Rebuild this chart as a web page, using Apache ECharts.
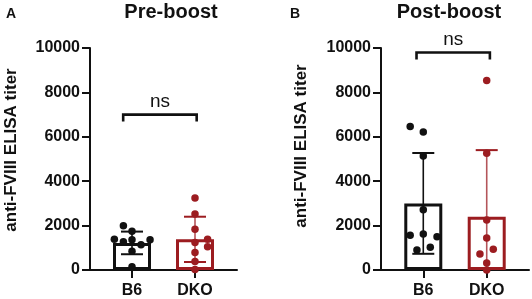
<!DOCTYPE html>
<html>
<head>
	<meta charset="utf-8"/>
	<script src="https://cdn.jsdelivr.net/npm/echarts@6/dist/echarts.min.js"></script>
	<style>
		html, body { margin: 0; padding: 0; background: #fff; }
		#chart { width: 532px; height: 299px; }
	</style>
	<title>anti-FVIII ELISA titer</title>
</head>
<body>
	<div id="chart"></div>
	<script>
		// groups and panels
		const groups = ['B6', 'DKO'];
		const panelTitles = ['Pre-boost', 'Post-boost'];
		const panelLetters = ['A', 'B'];
		const yName = 'anti-FVIII ELISA titer';
		const yTicks = [0, 2000, 4000, 6000, 8000, 10000];
		const sigLabel = ['ns', 'ns'];
		const sigValue = [7000, 9800];

		// bar heights (mean) and SD, [B6, DKO]
		const preMean = [1220, 1380];
		const preSD = [510, 1020];
		const postMean = [3000, 2400];
		const postSD = [2270, 3000];

		// individual mice, value + horizontal jitter
		const preB6 = [1990, 1740, 1390, 1270, 1360, 1140, 1360, 840, 150];
		const preB6Jit = [-0.41, 0, -0.84, -0.41, 0, 0.43, 0.86, 0, 0];
		const preDKO = [3240, 2520, 1840, 1240, 1390, 1050, 790, 380, 20];
		const preDKOJit = [0, 0, 0, 0, 0.6, 0.6, 0, 0, 0];
		const postB6 = [6460, 6220, 5140, 2710, 1570, 1620, 1500, 900, 1020];
		const postB6Jit = [-0.62, 0, 0, 0, -0.62, 0, 0.65, -0.3, 0.33];
		const postDKO = [8540, 5260, 2250, 1440, 940, 720, 320, 0];
		const postDKOJit = [0, 0, 0, 0, 0.31, -0.32, 0, 0];

		const colors = ['#111111', '#9c1c20'];
		const stemColors = ['#111111', '#b4555a'];
		const slotPos = [2, 5];   // x slot of each group on the 0..7 axis
		const fontFam = '"Liberation Sans", Arial, sans-serif';

		const grids = [
			{left: 90, top: 48, width: 147, height: 223},
			{left: 381, top: 48, width: 148, height: 223}
		];

		function errorRender(params, api){
			let x = api.value(0), lo = api.value(1), hi = api.value(2), ci = api.value(3);
			let pLo = api.coord([x, Math.max(0, lo)]);
			let pHi = api.coord([x, hi]);
			let half = 11;
			let st = {stroke: stemColors[ci], lineWidth: 1.6};
			let cap = {stroke: colors[ci], lineWidth: 2};
			let kids = [
				{type: 'line', shape: {x1: pHi[0], y1: pHi[1], x2: pLo[0], y2: pLo[1]}, style: st},
				{type: 'line', shape: {x1: pHi[0] - half, y1: pHi[1], x2: pHi[0] + half, y2: pHi[1]}, style: cap}
			];
			if (lo > 0){
				kids.push({type: 'line', shape: {x1: pLo[0] - half, y1: pLo[1], x2: pLo[0] + half, y2: pLo[1]}, style: cap});
			}
			return {type: 'group', children: kids};
		}

		function bracketRender(params, api){
			let a = api.coord([api.value(0), api.value(2)]);
			let b = api.coord([api.value(1), api.value(2)]);
			let drop = 7;
			return {
				type: 'group',
				children: [
					{type: 'polyline', shape: {points: [[a[0], a[1] + drop], [a[0], a[1]], [b[0], b[1]], [b[0], b[1] + drop]]},
						style: {stroke: '#111', lineWidth: 2.6, fill: null}},
					{type: 'text', x: (a[0] + b[0]) / 2, y: a[1] - 3,
						style: {text: sigLabel[api.value(3)], fill: '#111', font: '19px ' + fontFam, align: 'center', verticalAlign: 'bottom'}}
				]
			};
		}

		function buildPanel(p, means, sds, pts){
			let xv = p * 2;
			let series = [];
			series.push({
				type: 'bar', xAxisIndex: xv, yAxisIndex: p, barWidth: 38, z: 2,
				data: groups.map((g, i) => ({
					value: [slotPos[i], means[i]],
					itemStyle: {color: '#fff', borderColor: colors[i], borderWidth: 3}
				}))
			});
			series.push({
				type: 'custom', xAxisIndex: xv, yAxisIndex: p, z: 3,
				renderItem: errorRender,
				data: groups.map((g, i) => [slotPos[i], means[i] - sds[i], means[i] + sds[i], i])
			});
			pts.forEach((pair, i) => {
				series.push({
					type: 'scatter', xAxisIndex: xv, yAxisIndex: p, z: 4,
					symbolSize: 7.5,
					itemStyle: {color: colors[i], opacity: 1},
					data: pair[0].map((v, k) => [slotPos[i] + pair[1][k], v])
				});
			});
			series.push({
				type: 'custom', xAxisIndex: xv, yAxisIndex: p, z: 5,
				renderItem: bracketRender,
				data: [[slotPos[0] - (p ? 0.32 : 0.42), slotPos[1] + (p ? 0.15 : 0.08), sigValue[p], p]]
			});
			return series;
		}

		let xAxes = [];
		let yAxes = [];
		grids.forEach((g, p) => {
			xAxes.push({
				type: 'value', gridIndex: p, min: 0, max: 7, show: false, position: 'bottom'
			});
			xAxes.push({
				type: 'category', gridIndex: p, position: 'bottom', boundaryGap: false,
				data: ['0', '1', '2', '3', '4', '5', '6', '7'],
				axisLine: {lineStyle: {color: '#111', width: 2}},
				axisTick: {
					length: 8, lineStyle: {color: '#111', width: 2},
					interval: (i) => slotPos.indexOf(i) >= 0
				},
				axisLabel: {
					interval: (i) => slotPos.indexOf(i) >= 0,
					formatter: (v) => {
						let k = slotPos.indexOf(+v);
						return k >= 0 ? groups[k] : '';
					},
					color: '#111', fontWeight: 'bold', fontSize: 16, fontFamily: fontFam, margin: 13
				},
				splitLine: {show: false}
			});
			yAxes.push({
				type: 'value', gridIndex: p, min: yTicks[0], max: yTicks[yTicks.length - 1],
				interval: yTicks[1] - yTicks[0],
				axisLine: {show: true, lineStyle: {color: '#111', width: 2}},
				axisTick: {show: true, length: 8, lineStyle: {color: '#111', width: 2}},
				axisLabel: {
					color: '#111', fontWeight: 'bold', fontSize: 16, fontFamily: fontFam, margin: 10,
					formatter: (v) => String(v)
				},
				splitLine: {show: false}
			});
		});

		let series = []
			.concat(buildPanel(0, preMean, preSD, [[preB6, preB6Jit], [preDKO, preDKOJit]]))
			.concat(buildPanel(1, postMean, postSD, [[postB6, postB6Jit], [postDKO, postDKOJit]]));

		const titleStyle = {color: '#111', fontWeight: 'bold', fontSize: 20, fontFamily: fontFam};
		const letterStyle = {color: '#111', fontWeight: 'bold', fontSize: 14, fontFamily: fontFam};

		let option = {
			animation: false,
			backgroundColor: '#fff',
			title: [
				{text: panelTitles[0], left: 166, top: -3, textAlign: 'center', textStyle: titleStyle},
				{text: panelTitles[1], left: 444, top: -3, textAlign: 'center', textStyle: titleStyle},
				{text: panelLetters[0], left: 1, top: 2, textStyle: letterStyle},
				{text: panelLetters[1], left: 285, top: 2, textStyle: letterStyle}
			],
			graphic: [
				{type: 'text', x: 11, y: 150, rotation: Math.PI / 2,
					style: {text: yName, fill: '#111', font: 'bold 17px ' + fontFam, align: 'center', verticalAlign: 'middle'}},
				{type: 'text', x: 301, y: 146, rotation: Math.PI / 2,
					style: {text: yName, fill: '#111', font: 'bold 17px ' + fontFam, align: 'center', verticalAlign: 'middle'}}
			],
			grid: grids,
			xAxis: xAxes,
			yAxis: yAxes,
			series: series
		};

		let chart = echarts.init(document.getElementById('chart'), null, {renderer: 'canvas'});
		chart.setOption(option);
	</script>
</body>
</html>
